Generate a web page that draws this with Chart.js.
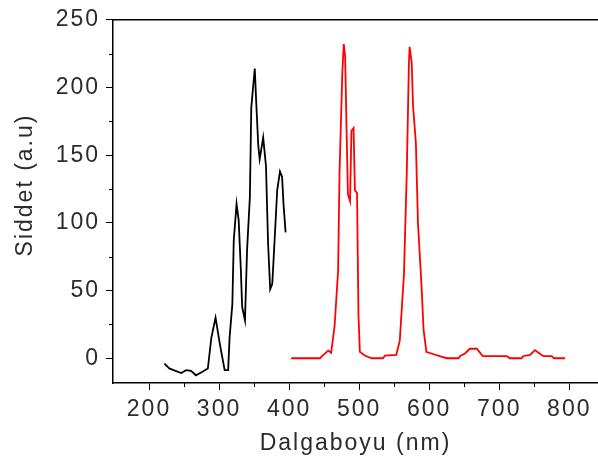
<!DOCTYPE html>
<html>
<head>
<meta charset="utf-8">
<script src="https://cdn.jsdelivr.net/npm/chart.js@4.4.1/dist/chart.umd.min.js"></script>
<style>
  html, body { margin: 0; padding: 0; background: #fff; }
  #wrap { width: 598px; height: 461px; }
</style>
</head>
<body>
<div id="wrap"><canvas id="chart" width="598" height="461"></canvas></div>
<script>
// --- DATA ---
// black curve (left band)
const blackX = [222, 229, 236, 246, 253, 260, 267, 275, 284, 289, 295, 301, 308, 313, 315, 319, 321, 325, 328, 331,
                333, 337, 340, 344, 346, 351, 353, 356, 358, 363, 367, 370, 373, 376, 380, 383, 387, 390, 392, 395];
const blackY = [-4, -7.5, -9, -11, -8.8, -9.3, -12.6, -10.3, -7.6, 15, 30, 11, -8.8, -8.8, 15, 40, 87, 114, 102, 67,
                38, 28, 80, 119, 185, 214, 190, 157, 147, 163, 142, 85, 51, 55, 94, 124, 138, 134, 114, 93];

// red curve (right band)
const redX = [403, 444, 449, 456, 460, 465, 470, 472, 476, 478, 480, 482, 484, 487, 489, 492, 494, 497, 499, 501,
              508, 518, 534, 537, 553, 558, 564, 568, 571, 572, 575, 577, 581, 584, 589, 592, 596, 603, 615, 625,
              642, 644, 651, 658, 668, 675, 677, 711, 715, 732, 734, 744, 751, 756, 763, 775, 778, 794];
const redY = [0, 0, 2.5, 5.6, 4, 24, 65, 137, 211, 232, 223, 170, 121, 116, 168, 170, 124, 122, 33, 4.7,
              2, 0, 0, 2, 2.5, 13, 62, 137, 217, 230, 219, 186, 159, 100, 54, 21, 4.7, 3.5, 1.5, 0,
              0, 1.5, 3.5, 7, 7, 2.5, 1.5, 1.5, 0, 0, 1.5, 2.5, 6, 4, 1.5, 1.5, 0, 0];

// ticks
const xTicks = [200, 300, 400, 500, 600, 700, 800];
const xMinor = [250, 350, 450, 550, 650, 750];
const yTicks = [0, 50, 100, 150, 200, 250];
const yMinor = [25, 75, 125, 175, 225];

const xTitle = "Dalgaboyu (nm)";
const yTitle = "Siddet (a.u)";

// --- STYLE ---
const FONT = { family: "'Liberation Sans', Arial, sans-serif", size: 23 };
const TEXT_COLOR = "#2b2b2b";

const toPoints = (xs, ys) => xs.map((x, i) => ({ x: x, y: ys[i] }));

// letter spacing + frame + minor ticks + y title
const extras = {
    id: "extras",
    beforeDraw(chart) {
        chart.ctx.letterSpacing = "2px";
    },
    afterDraw(chart) {
        const ctx = chart.ctx;
        const a = chart.chartArea;
        const sx = chart.scales.x, sy = chart.scales.y;
        ctx.save();
        ctx.strokeStyle = "#000";
        ctx.lineWidth = 1.5;
        // top frame line
        ctx.beginPath();
        ctx.moveTo(a.left, a.top);
        ctx.lineTo(a.right, a.top);
        ctx.stroke();
        // minor ticks
        ctx.lineWidth = 1;
        xMinor.forEach(v => {
            const px = Math.round(sx.getPixelForValue(v)) + 0.5;
            ctx.beginPath();
            ctx.moveTo(px, a.bottom);
            ctx.lineTo(px, a.bottom + 4);
            ctx.stroke();
        });
        yMinor.forEach(v => {
            const py = Math.round(sy.getPixelForValue(v)) + 0.5;
            ctx.beginPath();
            ctx.moveTo(a.left, py);
            ctx.lineTo(a.left - 4, py);
            ctx.stroke();
        });
        // y title
        ctx.fillStyle = TEXT_COLOR;
        ctx.font = FONT.size + "px " + FONT.family;
        ctx.letterSpacing = "2px";
        ctx.translate(32, 185);
        ctx.rotate(-Math.PI / 2);
        ctx.textAlign = "center";
        ctx.textBaseline = "alphabetic";
        ctx.fillText(yTitle, 0, 0);
        ctx.restore();
    }
};

new Chart(document.getElementById("chart"), {
    type: "scatter",
    data: {
        datasets: [
            {
                data: toPoints(blackX, blackY),
                showLine: true,
                borderColor: "#000000",
                borderWidth: 1.8,
                pointRadius: 0,
                tension: 0
            },
            {
                data: toPoints(redX, redY),
                showLine: true,
                borderColor: "#ff0000",
                borderWidth: 1.8,
                pointRadius: 0,
                tension: 0
            }
        ]
    },
    options: {
        responsive: false,
        animation: false,
        devicePixelRatio: 1,
        layout: { padding: { top: 17, right: 0, left: 0, bottom: 0 } },
        plugins: { legend: { display: false }, tooltip: { enabled: false } },
        scales: {
            x: {
                type: "linear",
                min: 148.6,
                max: 841,
                afterFit: s => { s.height = 78; },
                afterBuildTicks: s => { s.ticks = xTicks.map(v => ({ value: v })); },
                grid: { drawOnChartArea: false, drawTicks: true, tickLength: 7, color: "#000", lineWidth: 1 },
                border: { display: true, color: "#000", width: 1.5 },
                ticks: { font: FONT, color: TEXT_COLOR, padding: 6, maxRotation: 0 },
                title: { display: true, text: xTitle, font: FONT, color: TEXT_COLOR, padding: { top: 0 } }
            },
            y: {
                type: "linear",
                min: -18.3,
                max: 250,
                afterFit: s => { s.width = 113; },
                afterBuildTicks: s => { s.ticks = yTicks.map(v => ({ value: v })); },
                grid: { drawOnChartArea: false, drawTicks: true, tickLength: 7, color: "#000", lineWidth: 1 },
                border: { display: true, color: "#000", width: 1.5 },
                ticks: { font: FONT, color: TEXT_COLOR, padding: 6 }
            }
        }
    },
    plugins: [extras]
});
</script>
</body>
</html>
